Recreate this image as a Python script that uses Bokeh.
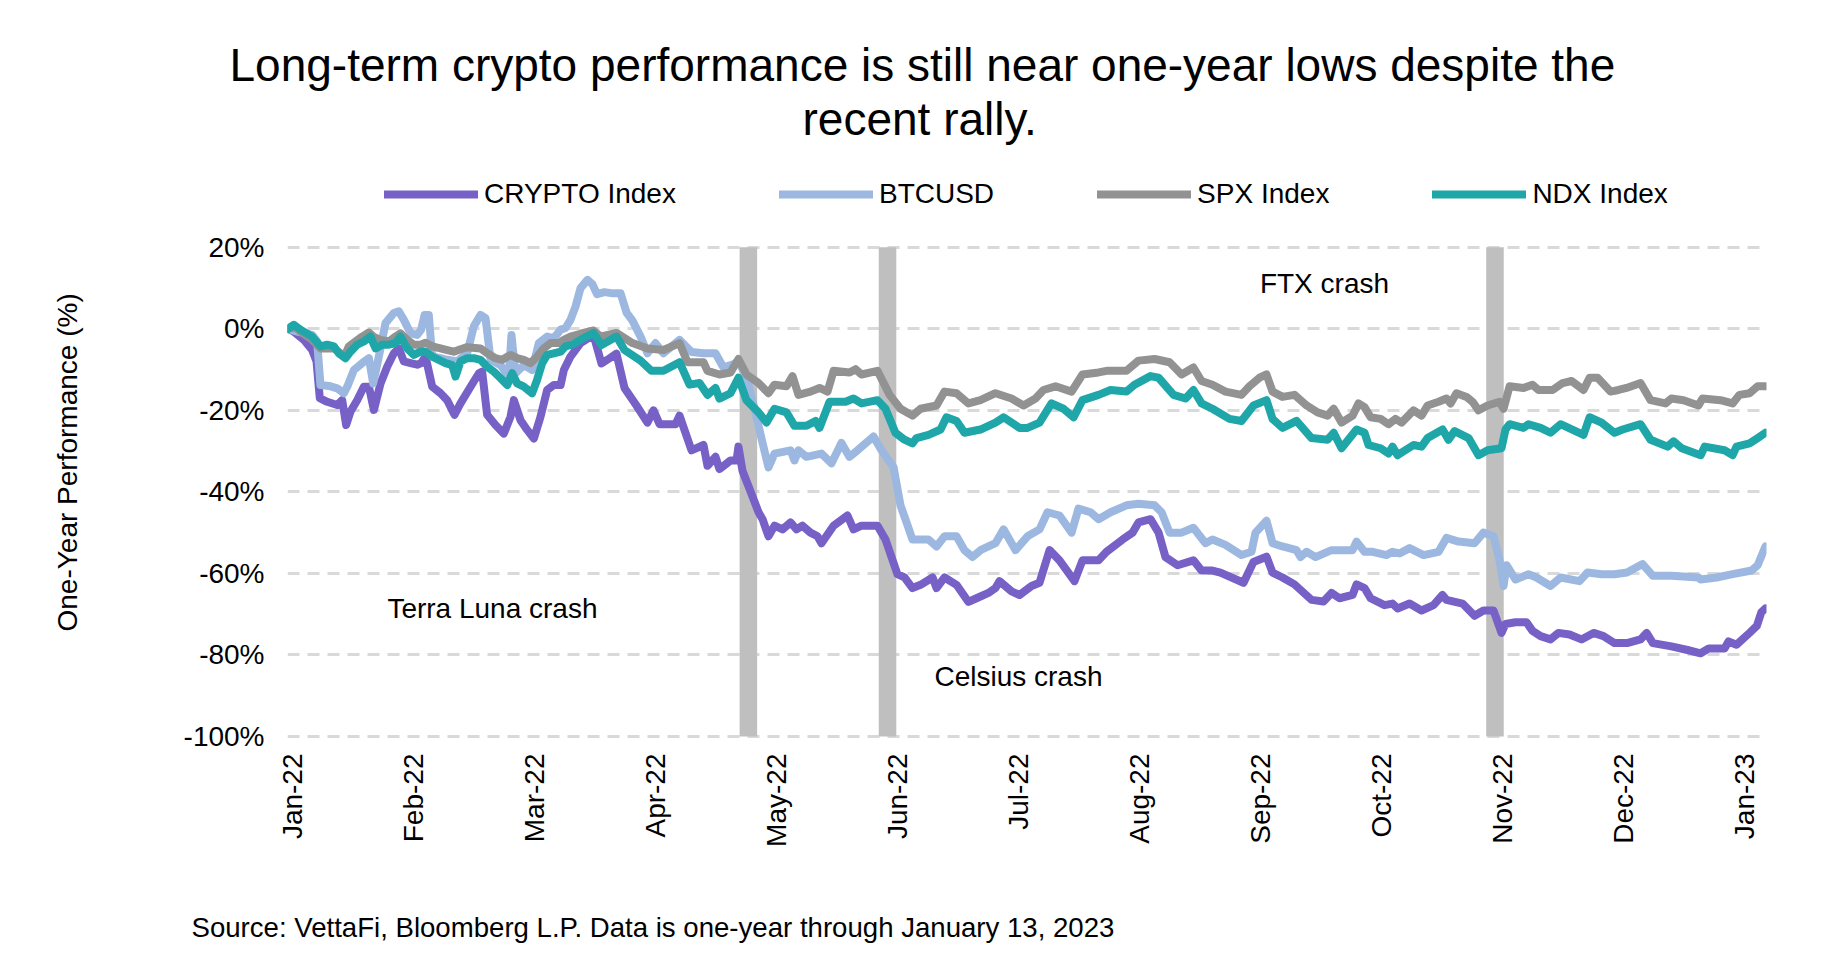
import math
from bokeh.plotting import figure
from bokeh.models import Range1d, FixedTicker, PrintfTickFormatter, Label, Legend, LegendItem, Title
from bokeh.embed import file_html
from bokeh.resources import INLINE

# ---------------- data ----------------
month_labels = ["Jan-22", "Feb-22", "Mar-22", "Apr-22", "May-22", "Jun-22", "Jul-22",
                "Aug-22", "Sep-22", "Oct-22", "Nov-22", "Dec-22", "Jan-23"]
y_ticks = [-100, -80, -60, -40, -20, 0, 20]

# x = position in months from Jan-22 (0 = Jan-22, 12 = Jan-23); y = one-year performance in %
crypto_pts = [(-0.036, 0), (0.013, -0.7), (0.096, -2.7), (0.165, -5.2), (0.201, -8.0), (0.228, -17.0), (0.289, -17.9),
    (0.372, -18.7), (0.413, -17.5), (0.446, -23.6), (0.482, -20.3), (0.537, -17.5), (0.592, -14.2), (0.634, -14.2),
    (0.675, -19.9), (0.730, -13.4), (0.785, -9.3), (0.840, -6.0), (0.881, -4.8), (0.923, -8.0), (0.978, -8.4),
    (1.033, -8.8), (1.066, -8.4), (1.102, -6.8), (1.157, -14.2), (1.226, -15.8), (1.281, -17.5), (1.341, -21.1),
    (1.391, -18.3), (1.474, -14.2), (1.543, -10.9), (1.570, -10.5), (1.611, -21.1), (1.680, -23.6), (1.749, -25.7),
    (1.804, -21.6), (1.832, -17.5), (1.887, -22.4), (1.942, -24.8), (1.997, -26.9), (2.052, -21.6), (2.107, -15.0),
    (2.162, -13.8), (2.218, -13.8), (2.245, -10.1), (2.300, -6.8), (2.383, -3.5), (2.490, -1.5), (2.556, -8.5),
    (2.614, -7.4), (2.680, -6.1), (2.746, -14.5), (2.845, -18.8), (2.936, -23.0), (2.986, -20.0), (3.036, -23.4),
    (3.168, -23.4), (3.201, -21.3), (3.300, -29.8), (3.399, -28.5), (3.432, -33.6), (3.498, -31.4), (3.531, -34.4),
    (3.622, -32.3), (3.672, -32.3), (3.688, -28.9), (3.721, -34.8), (3.788, -39.9), (3.854, -45.0), (3.887, -46.7),
    (3.936, -50.9), (3.986, -48.3), (4.052, -49.2), (4.118, -47.5), (4.168, -49.2), (4.217, -48.3), (4.283, -50.0),
    (4.341, -50.9), (4.374, -52.6), (4.474, -48.3), (4.589, -45.8), (4.639, -49.2), (4.705, -48.3), (4.837, -48.3),
    (4.903, -51.7), (5.002, -60.2), (5.060, -61.0), (5.126, -63.6), (5.193, -62.8), (5.292, -61.0), (5.325, -63.6),
    (5.391, -61.0), (5.490, -62.8), (5.589, -67.0), (5.655, -66.1), (5.754, -64.8), (5.812, -63.6), (5.845, -61.9),
    (5.945, -64.4), (6.011, -65.3), (6.110, -63.1), (6.176, -62.3), (6.259, -54.3), (6.341, -56.8), (6.465, -61.9),
    (6.531, -56.8), (6.664, -56.8), (6.730, -54.7), (6.862, -51.7), (6.945, -50.0), (6.994, -47.5), (7.093, -46.7),
    (7.160, -50.0), (7.217, -56.0), (7.317, -58.0), (7.448, -56.8), (7.515, -59.3), (7.605, -59.3), (7.671, -59.8),
    (7.862, -62.3), (7.944, -57.2), (8.052, -55.9), (8.102, -59.8), (8.184, -61.0), (8.283, -62.7), (8.424, -66.5),
    (8.523, -66.9), (8.589, -64.8), (8.655, -66.1), (8.763, -65.3), (8.796, -62.7), (8.862, -63.6), (8.912, -66.1),
    (9.027, -67.8), (9.093, -67.4), (9.135, -68.6), (9.234, -67.4), (9.333, -69.1), (9.432, -67.8), (9.506, -65.3),
    (9.539, -66.5), (9.672, -67.4), (9.771, -70.4), (9.845, -69.1), (9.928, -69.1), (9.994, -74.6), (10.027, -72.4),
    (10.110, -72.0), (10.201, -72.0), (10.250, -74.1), (10.317, -75.4), (10.399, -76.2), (10.465, -74.6),
    (10.556, -75.0), (10.655, -76.2), (10.755, -74.6), (10.837, -75.4), (10.928, -77.1), (11.031, -77.1),
    (11.143, -76.2), (11.193, -74.6), (11.245, -77.1), (11.398, -77.9), (11.531, -78.8), (11.640, -79.6),
    (11.707, -78.4), (11.837, -78.4), (11.870, -76.7), (11.936, -77.5), (12.044, -74.6), (12.104, -72.9),
    (12.142, -69.5), (12.175, -68.6)]

btc_pts = [(-0.036, 0), (0.041, -0.7), (0.165, -1.5), (0.206, -3.1), (0.234, -13.8), (0.303, -14.0), (0.372, -14.6),
    (0.427, -15.8), (0.455, -14.2), (0.510, -10.1), (0.579, -8.4), (0.634, -7.2), (0.669, -13.4), (0.716, -6.8),
    (0.771, 1.4), (0.840, 3.9), (0.881, 4.3), (0.923, 2.2), (0.978, -1.1), (1.033, -1.5), (1.066, -0.2), (1.094, 3.4),
    (1.129, 3.4), (1.157, -6.8), (1.226, -7.2), (1.281, -7.6), (1.364, -8.0), (1.446, -6.0), (1.501, 0.6),
    (1.556, 3.4), (1.598, 2.6), (1.639, -7.6), (1.722, -8.9), (1.790, -11.7), (1.812, -1.5), (1.845, -10.9),
    (1.915, -8.9), (1.983, -10.1), (2.038, -3.5), (2.107, -1.9), (2.162, -2.3), (2.218, -0.2), (2.259, 0.2),
    (2.300, 2.2), (2.342, 5.5), (2.383, 10.0), (2.440, 12.0), (2.480, 11.0), (2.520, 8.5), (2.580, 9.0),
    (2.650, 8.7), (2.714, 8.7), (2.763, 4.0), (2.812, 2.0), (2.879, -1.9), (2.936, -6.0), (3.002, -3.5),
    (3.068, -6.0), (3.201, -2.7), (3.300, -5.7), (3.399, -6.0), (3.498, -6.0), (3.564, -9.5), (3.655, -8.6),
    (3.688, -7.8), (3.754, -12.0), (3.821, -19.6), (3.887, -28.0), (3.936, -34.0), (3.986, -30.6), (4.118, -29.8),
    (4.151, -32.3), (4.184, -29.8), (4.250, -31.4), (4.374, -30.6), (4.457, -33.0), (4.539, -28.0), (4.605, -31.4),
    (4.672, -29.8), (4.804, -26.4), (4.870, -29.8), (4.970, -34.0), (5.027, -43.3), (5.077, -47.5), (5.126, -51.7),
    (5.258, -51.7), (5.325, -53.4), (5.391, -50.9), (5.490, -50.9), (5.556, -54.3), (5.622, -56.0), (5.688, -54.3),
    (5.812, -52.6), (5.879, -49.2), (5.978, -54.3), (6.077, -50.9), (6.176, -49.2), (6.242, -45.0), (6.341, -45.8),
    (6.441, -50.0), (6.498, -44.1), (6.598, -45.0), (6.664, -46.7), (6.763, -45.0), (6.895, -43.3), (6.994, -42.9),
    (7.127, -43.3), (7.185, -45.0), (7.251, -50.0), (7.350, -50.0), (7.448, -48.8), (7.548, -52.6), (7.605, -51.7),
    (7.713, -53.0), (7.845, -55.5), (7.928, -54.7), (7.961, -50.0), (8.052, -47.1), (8.102, -52.6), (8.184, -53.4),
    (8.300, -54.3), (8.333, -56.0), (8.383, -54.7), (8.457, -56.0), (8.589, -54.3), (8.763, -54.3), (8.796, -52.2),
    (8.862, -54.7), (8.928, -54.7), (9.044, -55.5), (9.093, -54.7), (9.151, -55.1), (9.234, -53.8), (9.350, -55.5),
    (9.474, -54.7), (9.539, -51.3), (9.639, -52.2), (9.771, -52.6), (9.845, -50.0), (9.928, -50.9), (9.978, -56.8),
    (10.011, -63.1), (10.036, -58.0), (10.110, -61.5), (10.217, -60.2), (10.283, -61.0), (10.399, -63.1),
    (10.482, -61.0), (10.639, -61.9), (10.705, -59.8), (10.821, -60.2), (10.928, -60.2), (11.031, -59.8),
    (11.160, -57.7), (11.245, -60.6), (11.398, -60.6), (11.622, -61.0), (11.640, -61.5), (11.772, -61.0),
    (11.904, -60.2), (12.061, -59.3), (12.111, -58.0), (12.175, -53.4)]

spx_pts = [(-0.036, 0), (0.027, 0.4), (0.068, -0.7), (0.165, -2.7), (0.234, -4.8), (0.344, -4.8), (0.399, -6.0),
    (0.432, -6.8), (0.468, -4.3), (0.523, -3.1), (0.579, -1.9), (0.634, -0.9), (0.675, -2.0), (0.730, -2.7),
    (0.799, -3.1), (0.854, -1.9), (0.895, -1.1), (0.950, -2.7), (1.005, -3.9), (1.060, -3.9), (1.102, -3.4),
    (1.157, -4.3), (1.226, -4.8), (1.281, -5.2), (1.336, -5.6), (1.391, -5.0), (1.446, -4.5), (1.556, -4.8),
    (1.611, -6.0), (1.680, -7.2), (1.735, -7.6), (1.804, -6.4), (1.859, -7.2), (1.914, -7.6), (1.969, -8.4),
    (2.024, -6.8), (2.079, -4.8), (2.135, -3.5), (2.204, -3.5), (2.245, -2.7), (2.300, -1.9), (2.383, -1.2),
    (2.490, -0.4), (2.548, -1.9), (2.680, -1.0), (2.812, -3.5), (2.936, -4.8), (3.068, -5.2), (3.201, -3.5),
    (3.267, -8.2), (3.399, -8.2), (3.432, -10.3), (3.531, -11.2), (3.622, -10.7), (3.688, -7.4), (3.754, -11.2),
    (3.854, -13.3), (3.936, -15.8), (3.986, -13.7), (4.085, -14.1), (4.135, -11.6), (4.184, -16.2), (4.283, -15.4),
    (4.358, -14.5), (4.424, -15.4), (4.474, -10.3), (4.606, -10.7), (4.656, -9.9), (4.705, -11.2), (4.837, -10.3),
    (4.937, -16.2), (5.027, -19.6), (5.126, -21.3), (5.193, -19.6), (5.325, -18.8), (5.391, -15.4), (5.490, -15.8),
    (5.589, -18.3), (5.688, -17.5), (5.812, -15.8), (5.945, -17.1), (6.044, -18.8), (6.143, -17.1), (6.209, -15.0),
    (6.308, -14.1), (6.441, -15.4), (6.531, -11.2), (6.664, -10.7), (6.730, -10.3), (6.895, -10.3), (6.994, -7.8),
    (7.127, -7.4), (7.251, -8.2), (7.350, -11.2), (7.448, -9.5), (7.515, -12.8), (7.605, -13.7), (7.713, -15.4),
    (7.845, -16.2), (7.911, -14.1), (7.994, -12.0), (8.052, -11.2), (8.102, -15.4), (8.184, -16.7), (8.283, -16.2),
    (8.383, -18.8), (8.474, -20.5), (8.557, -21.3), (8.607, -19.6), (8.672, -23.0), (8.763, -21.3), (8.812, -18.3),
    (8.862, -19.2), (8.912, -21.7), (8.995, -22.1), (9.060, -23.4), (9.118, -22.1), (9.168, -23.0), (9.267, -20.0),
    (9.333, -21.3), (9.383, -18.8), (9.474, -17.9), (9.539, -17.1), (9.573, -18.3), (9.622, -15.8), (9.705, -16.7),
    (9.755, -17.9), (9.804, -20.0), (9.879, -18.8), (9.978, -17.9), (10.011, -19.6), (10.061, -14.1),
    (10.176, -14.5), (10.250, -13.7), (10.300, -15.0), (10.416, -15.0), (10.499, -13.3), (10.573, -12.8),
    (10.672, -15.0), (10.722, -12.0), (10.788, -12.0), (10.895, -15.4), (10.961, -15.0), (11.027, -14.5),
    (11.143, -13.3), (11.226, -17.5), (11.350, -18.3), (11.398, -17.1), (11.498, -17.5), (11.622, -18.8),
    (11.655, -17.1), (11.804, -17.5), (11.904, -18.3), (11.961, -16.2), (12.044, -15.8), (12.111, -14.1),
    (12.175, -14.1)]

ndx_pts = [(-0.036, 0), (0.013, 1.0), (0.068, -0.2), (0.165, -1.9), (0.234, -4.3), (0.289, -3.9), (0.344, -4.3),
    (0.385, -6.0), (0.440, -7.2), (0.482, -5.6), (0.537, -3.9), (0.592, -3.1), (0.647, -1.9), (0.689, -4.8),
    (0.744, -3.9), (0.799, -3.9), (0.854, -3.5), (0.895, -1.9), (0.950, -4.8), (1.005, -6.4), (1.060, -5.6),
    (1.102, -5.6), (1.157, -6.8), (1.212, -7.6), (1.267, -8.4), (1.322, -8.9), (1.350, -11.7), (1.391, -8.0),
    (1.446, -7.2), (1.501, -7.2), (1.556, -7.6), (1.611, -9.3), (1.666, -10.5), (1.722, -12.1), (1.777, -13.8),
    (1.818, -10.9), (1.859, -13.4), (1.914, -14.2), (1.983, -15.8), (2.024, -12.5), (2.066, -8.4), (2.107, -6.4),
    (2.162, -6.0), (2.218, -5.6), (2.259, -4.3), (2.314, -3.9), (2.383, -2.7), (2.490, -1.0), (2.556, -4.0),
    (2.680, -1.9), (2.746, -5.2), (2.879, -7.8), (2.969, -10.3), (3.068, -10.3), (3.201, -8.2), (3.284, -13.7),
    (3.366, -13.3), (3.432, -16.2), (3.498, -14.5), (3.531, -17.1), (3.622, -15.8), (3.688, -12.0), (3.754, -17.5),
    (3.854, -20.5), (3.920, -23.0), (3.986, -19.6), (4.085, -20.5), (4.151, -23.8), (4.250, -23.8), (4.325, -22.6),
    (4.358, -24.3), (4.441, -17.9), (4.573, -17.9), (4.639, -17.1), (4.705, -18.3), (4.837, -17.5), (4.903, -19.6),
    (4.985, -25.5), (5.060, -27.2), (5.126, -28.1), (5.160, -26.8), (5.259, -26.0), (5.358, -24.7), (5.407, -21.7),
    (5.490, -22.6), (5.556, -25.5), (5.688, -24.7), (5.812, -23.0), (5.879, -21.7), (6.011, -24.3), (6.077, -24.3),
    (6.176, -23.0), (6.275, -18.3), (6.374, -19.6), (6.457, -21.7), (6.531, -17.5), (6.664, -16.2), (6.763, -15.0),
    (6.895, -15.4), (6.961, -13.7), (7.093, -11.6), (7.160, -12.0), (7.284, -16.2), (7.383, -17.1), (7.448, -15.0),
    (7.515, -18.3), (7.605, -19.6), (7.746, -22.1), (7.845, -22.6), (7.944, -18.8), (8.052, -17.5), (8.102, -22.1),
    (8.184, -24.3), (8.300, -22.6), (8.424, -26.8), (8.557, -27.2), (8.607, -25.5), (8.672, -29.3), (8.796, -24.7),
    (8.862, -25.5), (8.895, -28.5), (8.995, -29.3), (9.060, -30.6), (9.093, -28.9), (9.135, -31.0), (9.267, -28.5),
    (9.333, -28.9), (9.383, -26.8), (9.507, -24.7), (9.556, -27.2), (9.606, -25.1), (9.722, -26.8), (9.804, -31.0),
    (9.879, -29.8), (9.994, -29.3), (10.027, -24.7), (10.061, -23.4), (10.176, -24.3), (10.217, -23.4),
    (10.317, -24.3), (10.399, -25.5), (10.482, -23.4), (10.672, -26.0), (10.722, -21.7), (10.821, -23.0),
    (10.928, -25.5), (10.995, -24.7), (11.143, -23.4), (11.226, -27.2), (11.366, -28.9), (11.416, -27.6),
    (11.483, -29.3), (11.640, -31.0), (11.673, -28.9), (11.837, -29.8), (11.904, -31.0), (11.936, -28.9),
    (12.044, -28.1), (12.111, -26.8), (12.175, -25.5)]

event_x = [3.77, 4.92, 9.94]
event_names = ["Terra Luna crash", "Celsius crash", "FTX crash"]
event_label_pos = [(1.655, -68.6), (6.002, -85.4), (8.531, 11.1)]

series_names = ["CRYPTO Index", "BTCUSD", "SPX Index", "NDX Index"]
series_colors = ["#7760C6", "#9DB8E0", "#929292", "#1FA6A8"]
series_pts = [crypto_pts, btc_pts, spx_pts, ndx_pts]

title_lines = ["Long-term crypto performance is still near one-year lows despite the", "recent rally."]
source_text = "Source: VettaFi, Bloomberg L.P. Data is one-year through January 13, 2023"
y_title = "One-Year Performance (%)"

# ---------------- figure ----------------
FONT = "Liberation Sans"
FS = "28px"

p = figure(width=1834, height=968, output_backend="svg", toolbar_location=None,
           x_range=Range1d(-0.0388, 12.184), y_range=Range1d(-101, 41.3),
           min_border_left=287, min_border_right=68, min_border_top=160, min_border_bottom=228)
p.outline_line_color = None
p.background_fill_color = "white"
p.border_fill_color = "white"

p.xgrid.grid_line_color = None
p.ygrid.ticker = FixedTicker(ticks=y_ticks)
p.ygrid.grid_line_color = "#D9D9D9"
p.ygrid.grid_line_width = 3
p.ygrid.grid_line_dash = "12 8"

p.yaxis.ticker = FixedTicker(ticks=y_ticks)
p.yaxis.formatter = PrintfTickFormatter(format="%d%%")
p.xaxis.ticker = FixedTicker(ticks=list(range(len(month_labels))))
p.xaxis.major_label_overrides = {i: lab for i, lab in enumerate(month_labels)}
p.xaxis.major_label_orientation = math.pi / 2

for ax in (p.xaxis, p.yaxis):
    ax.axis_line_color = None
    ax.major_tick_line_color = None
    ax.minor_tick_line_color = None
    ax.major_tick_in = 0
    ax.major_tick_out = 0
    ax.major_label_text_font = FONT
    ax.major_label_text_font_size = FS
    ax.major_label_text_color = "black"
p.yaxis.major_label_standoff = 23
p.xaxis.major_label_standoff = 13

# y-axis title in the left panel (a blank spacer title keeps it away from the tick labels)
p.add_layout(Title(text=" ", standoff=65, text_font=FONT, text_font_size=FS), "left")
p.add_layout(Title(text=y_title, align="left", offset=109, standoff=0,
                   text_font=FONT, text_font_size=FS, text_font_style="normal", text_color="black"), "left")

# event bands
p.vbar(x=event_x, width=0.145, top=20, bottom=-100, fill_color="#BFBFBF", line_color=None)

renderers = []
for name, color, pts in zip(series_names, series_colors, series_pts):
    xs = [a for a, b in pts]
    ys = [b for a, b in pts]
    r = p.line(xs, ys, line_color=color, line_width=8, line_cap="round", line_join="round")
    renderers.append(r)

legend = Legend(items=[LegendItem(label=n, renderers=[r]) for n, r in zip(series_names, renderers)],
                orientation="horizontal", location=(97, 530),
                glyph_width=94, glyph_height=30, label_height=30, label_standoff=6, spacing=103,
                label_text_font=FONT, label_text_font_size=FS, label_text_color="black",
                border_line_color=None, background_fill_alpha=0, padding=0, margin=0)
p.add_layout(legend)

for name, (lx, ly) in zip(event_names, event_label_pos):
    p.add_layout(Label(x=lx, y=ly, text=name, text_align="center", text_baseline="middle",
                       text_font=FONT, text_font_size=FS, text_color="black"))

# titles (second line added first so it sits closer to the plot)
p.add_layout(Title(text=title_lines[1], align="left", offset=515, standoff=32,
                   text_font=FONT, text_font_size="46px", text_font_style="normal", text_color="black"), "above")
p.add_layout(Title(text=title_lines[0], align="left", offset=-58, standoff=-32,
                   text_font=FONT, text_font_size="46px", text_font_style="normal", text_color="black"), "above")

# source note below the month labels (blank spacer title first)
p.add_layout(Title(text=" ", standoff=27, text_font=FONT, text_font_size="27.6px"), "below")
p.add_layout(Title(text=source_text, align="left", offset=-96, standoff=0,
                   text_font=FONT, text_font_size="27.6px", text_font_style="normal", text_color="black"), "below")

open("out.html", "w").write(file_html(p, INLINE))
